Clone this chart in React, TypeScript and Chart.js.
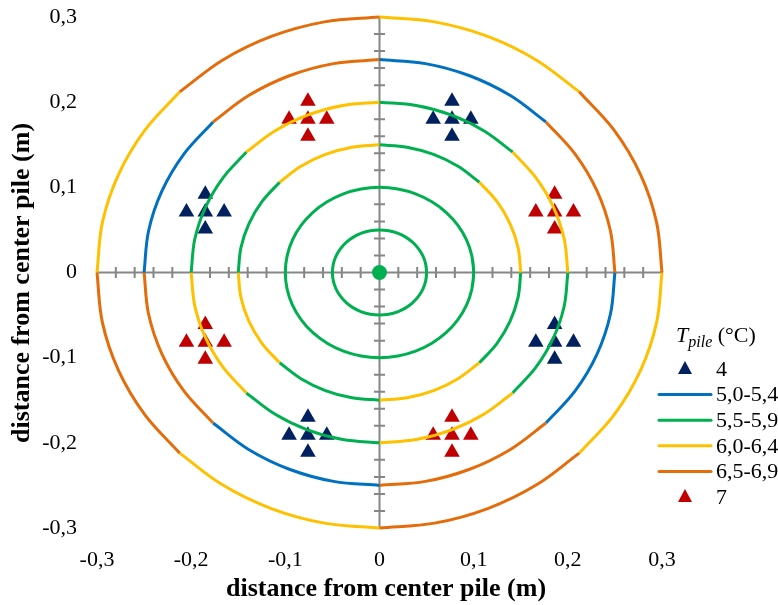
import React, { useEffect, useRef } from "react";
import { Chart, registerables } from "chart.js";

Chart.register(...registerables);

// ---------- data ----------
const X_TICKS = [-0.3, -0.2, -0.1, 0, 0.1, 0.2, 0.3];
const Y_TICKS = [-0.3, -0.2, -0.1, 0, 0.1, 0.2, 0.3];
const MINOR_STEP = 0.02;

// isotherm ring radii (m)
const RADII = [0.05, 0.1, 0.15, 0.2, 0.25, 0.3];
// ring vertices every 11.25°, counter-clockwise from +x
const DIR_X = [
  1, 0.981, 0.924, 0.831, 0.707, 0.556, 0.383, 0.195,
  0, -0.195, -0.383, -0.556, -0.707, -0.831, -0.924, -0.981,
  -1, -0.981, -0.924, -0.831, -0.707, -0.556, -0.383, -0.195,
  0, 0.195, 0.383, 0.556, 0.707, 0.831, 0.924, 0.981,
];
const DIR_Y = [
  0, 0.195, 0.383, 0.556, 0.707, 0.831, 0.924, 0.981,
  1, 0.981, 0.924, 0.831, 0.707, 0.556, 0.383, 0.195,
  0, -0.195, -0.383, -0.556, -0.707, -0.831, -0.924, -0.981,
  -1, -0.981, -0.924, -0.831, -0.707, -0.556, -0.383, -0.195,
];
const N_DIR = 32;
const PER_OCT = 4;

// temperature class of each octant (0-45°, 45-90°, ...) for each ring
const G = "5,5-5,9";
const B = "5,0-5,4";
const Y = "6,0-6,4";
const O = "6,5-6,9";
const RING_CLASSES = [
  [G, G, G, G, G, G, G, G],
  [G, G, G, G, G, G, G, G],
  [Y, G, Y, G, Y, G, Y, G],
  [Y, G, Y, G, Y, G, Y, G],
  [O, B, O, B, O, B, O, B],
  [O, Y, O, Y, O, Y, O, Y],
];

const CLASS_LABELS = ["5,0-5,4", "5,5-5,9", "6,0-6,4", "6,5-6,9"];
const CLASS_COLORS = ["#0070C0", "#00B050", "#FFC000", "#E46C0A"];

// sensor positions, T = 4 °C
const T4_X = [0.077, 0.057, 0.097, 0.077, 0.077, -0.185, -0.205, -0.165, -0.185, -0.185, 0.186, 0.166, 0.206, 0.186, 0.186, -0.076, -0.096, -0.056, -0.076, -0.076];
const T4_Y = [0.180, 0.180, 0.180, 0.201, 0.160, 0.071, 0.071, 0.071, 0.092, 0.051, -0.082, -0.082, -0.082, -0.061, -0.102, -0.191, -0.191, -0.191, -0.170, -0.211];
// sensor positions, T = 7 °C
const T7_X = [-0.076, -0.096, -0.056, -0.076, -0.076, 0.186, 0.166, 0.206, 0.186, 0.186, -0.185, -0.205, -0.165, -0.185, -0.185, 0.077, 0.057, 0.097, 0.077, 0.077];
const T7_Y = [0.180, 0.180, 0.180, 0.201, 0.160, 0.071, 0.071, 0.071, 0.092, 0.051, -0.082, -0.082, -0.082, -0.061, -0.102, -0.191, -0.191, -0.191, -0.170, -0.211];

const PILE_X = [0];
const PILE_Y = [0];

const COLOR_T4 = "#002060";
const COLOR_T7 = "#C00000";
const COLOR_PILE = "#00B050";
const AXIS_COLOR = "#868686";
const SERIF = "'Liberation Serif', 'Times New Roman', serif";

const fmt = (v: number) => {
  if (Math.abs(v) < 1e-9) return "0";
  return v.toFixed(1).replace(".", ",");
};

function ringLine(pts: any[], color: string) {
  return {
    data: pts,
    showLine: true,
    borderColor: color,
    backgroundColor: color,
    borderWidth: 3,
    pointRadius: 0,
    tension: 0.35,
    clip: false,
  };
}

function buildDatasets() {
  const ds: any[] = [];
  RADII.forEach((r, ri) => {
    const classes = RING_CLASSES[ri];
    const allSame = classes.every((c) => c === classes[0]);
    if (allSame) {
      const idx = CLASS_LABELS.indexOf(classes[0]);
      const pts: any[] = [];
      for (let k = -1; k <= N_DIR + 1; k++) {
        const i = ((k % N_DIR) + N_DIR) % N_DIR;
        pts.push({ x: r * DIR_X[i], y: r * DIR_Y[i] });
      }
      ds.push({ label: classes[0], ...ringLine(pts, CLASS_COLORS[idx]) });
    } else {
      classes.forEach((c, oct) => {
        const idx = CLASS_LABELS.indexOf(c);
        const pts: any[] = [];
        for (let k = 0; k <= PER_OCT; k++) {
          const i = (oct * PER_OCT + k) % N_DIR;
          pts.push({ x: r * DIR_X[i], y: r * DIR_Y[i] });
        }
        ds.push({ label: c, ...ringLine(pts, CLASS_COLORS[idx]) });
      });
    }
  });
  ds.push({
    label: "4",
    data: T4_X.map((x, i) => ({ x, y: T4_Y[i] })),
    showLine: false,
    pointStyle: "triangle",
    pointRadius: 9,
    backgroundColor: COLOR_T4,
    borderColor: COLOR_T4,
    borderWidth: 0,
    clip: false,
  });
  ds.push({
    label: "7",
    data: T7_X.map((x, i) => ({ x, y: T7_Y[i] })),
    showLine: false,
    pointStyle: "triangle",
    pointRadius: 9,
    backgroundColor: COLOR_T7,
    borderColor: COLOR_T7,
    borderWidth: 0,
    clip: false,
  });
  ds.push({
    label: "pile",
    data: PILE_X.map((x, i) => ({ x, y: PILE_Y[i] })),
    showLine: false,
    pointStyle: "circle",
    pointRadius: 7.5,
    backgroundColor: COLOR_PILE,
    borderColor: COLOR_PILE,
    borderWidth: 0,
    clip: false,
  });
  return ds;
}

const LEGEND_ITEMS = [
  { label: "4", kind: "tri", color: COLOR_T4 },
  { label: CLASS_LABELS[0], kind: "line", color: CLASS_COLORS[0] },
  { label: CLASS_LABELS[1], kind: "line", color: CLASS_COLORS[1] },
  { label: CLASS_LABELS[2], kind: "line", color: CLASS_COLORS[2] },
  { label: CLASS_LABELS[3], kind: "line", color: CLASS_COLORS[3] },
  { label: "7", kind: "tri", color: COLOR_T7 },
];

const overlayPlugin = {
  id: "overlay",
  beforeDatasetsDraw(chart: any) {
    const { ctx, scales } = chart;
    const xs = scales.x;
    const ys = scales.y;
    const x0 = xs.getPixelForValue(0);
    const y0 = ys.getPixelForValue(0);
    ctx.save();
    ctx.strokeStyle = AXIS_COLOR;
    ctx.lineWidth = 2;
    ctx.beginPath();
    ctx.moveTo(xs.getPixelForValue(X_TICKS[0]), y0);
    ctx.lineTo(xs.getPixelForValue(X_TICKS[X_TICKS.length - 1]), y0);
    ctx.moveTo(x0, ys.getPixelForValue(Y_TICKS[0]));
    ctx.lineTo(x0, ys.getPixelForValue(Y_TICKS[Y_TICKS.length - 1]));
    const n = Math.round(0.3 / MINOR_STEP);
    for (let k = -n; k <= n; k++) {
      if (k === 0) continue;
      const v = k * MINOR_STEP;
      const px = xs.getPixelForValue(v);
      ctx.moveTo(px, y0 - 5.5);
      ctx.lineTo(px, y0 + 5.5);
      const py = ys.getPixelForValue(v);
      ctx.moveTo(x0 - 5.5, py);
      ctx.lineTo(x0 + 5.5, py);
    }
    ctx.stroke();
    ctx.restore();
  },
  afterDraw(chart: any) {
    const { ctx } = chart;
    ctx.save();
    // axis titles
    ctx.fillStyle = "#000";
    ctx.font = `bold 26px ${SERIF}`;
    ctx.textAlign = "center";
    ctx.textBaseline = "middle";
    ctx.fillText("distance from center pile (m)", 386, 589);
    ctx.save();
    ctx.translate(22, 283);
    ctx.rotate(-Math.PI / 2);
    ctx.fillText("distance from center pile (m)", 0, 0);
    ctx.restore();

    // legend title
    ctx.textAlign = "left";
    ctx.textBaseline = "alphabetic";
    let tx = 676;
    ctx.font = `italic 22px ${SERIF}`;
    ctx.fillText("T", tx, 342);
    tx += ctx.measureText("T").width;
    ctx.font = `italic 16px ${SERIF}`;
    ctx.fillText("pile", tx, 347);
    tx += ctx.measureText("pile").width;
    ctx.font = `22px ${SERIF}`;
    ctx.fillText(" (°C)", tx, 342);

    // legend items
    ctx.font = `22px ${SERIF}`;
    ctx.textBaseline = "middle";
    LEGEND_ITEMS.forEach((it, i) => {
      const cy = 369 + i * 25.6;
      if (it.kind === "line") {
        ctx.strokeStyle = it.color;
        ctx.lineWidth = 3;
        ctx.lineCap = "round";
        ctx.beginPath();
        ctx.moveTo(659, cy);
        ctx.lineTo(711, cy);
        ctx.stroke();
      } else {
        ctx.fillStyle = it.color;
        ctx.beginPath();
        ctx.moveTo(685, cy - 8);
        ctx.lineTo(692, cy + 5);
        ctx.lineTo(678, cy + 5);
        ctx.closePath();
        ctx.fill();
      }
      ctx.fillStyle = "#000";
      ctx.fillText(it.label, 716, cy + 1);
    });
    ctx.restore();
  },
};

export default function App() {
  const ref = useRef<HTMLCanvasElement | null>(null);
  useEffect(() => {
    if (!ref.current) return;
    const chart = new Chart(ref.current, {
      type: "scatter",
      data: { datasets: buildDatasets() },
      options: {
        animation: false,
        responsive: false,
        devicePixelRatio: 1,
        layout: { padding: { left: 0, top: 17, right: 116, bottom: 0 } },
        plugins: {
          legend: { display: false },
          tooltip: { enabled: false },
        },
        scales: {
          x: {
            type: "linear",
            min: -0.3,
            max: 0.3,
            afterBuildTicks: (s: any) => {
              s.ticks = X_TICKS.map((v) => ({ value: v }));
            },
            afterFit: (s: any) => {
              s.height = 77;
              s.paddingLeft = 0;
              s.paddingRight = 0;
            },
            ticks: {
              callback: (v: any) => fmt(Number(v)),
              font: { family: SERIF, size: 22 },
              color: "#000",
              padding: 19,
              maxRotation: 0,
              autoSkip: false,
            },
            grid: { display: false, drawTicks: false },
            border: { display: false },
          },
          y: {
            type: "linear",
            min: -0.3,
            max: 0.3,
            afterBuildTicks: (s: any) => {
              s.ticks = Y_TICKS.map((v) => ({ value: v }));
            },
            afterFit: (s: any) => {
              s.width = 97;
              s.paddingTop = 0;
              s.paddingBottom = 0;
            },
            ticks: {
              callback: (v: any) => fmt(Number(v)),
              font: { family: SERIF, size: 22 },
              color: "#000",
              padding: 20,
              autoSkip: false,
            },
            grid: { display: false, drawTicks: false },
            border: { display: false },
          },
        },
      },
      plugins: [overlayPlugin],
    } as any);
    return () => chart.destroy();
  }, []);
  return (
    <div style={{ position: "fixed", left: 0, top: 0, width: 778, height: 605, background: "#fff" }}>
      <canvas ref={ref} width={778} height={605} />
    </div>
  );
}
